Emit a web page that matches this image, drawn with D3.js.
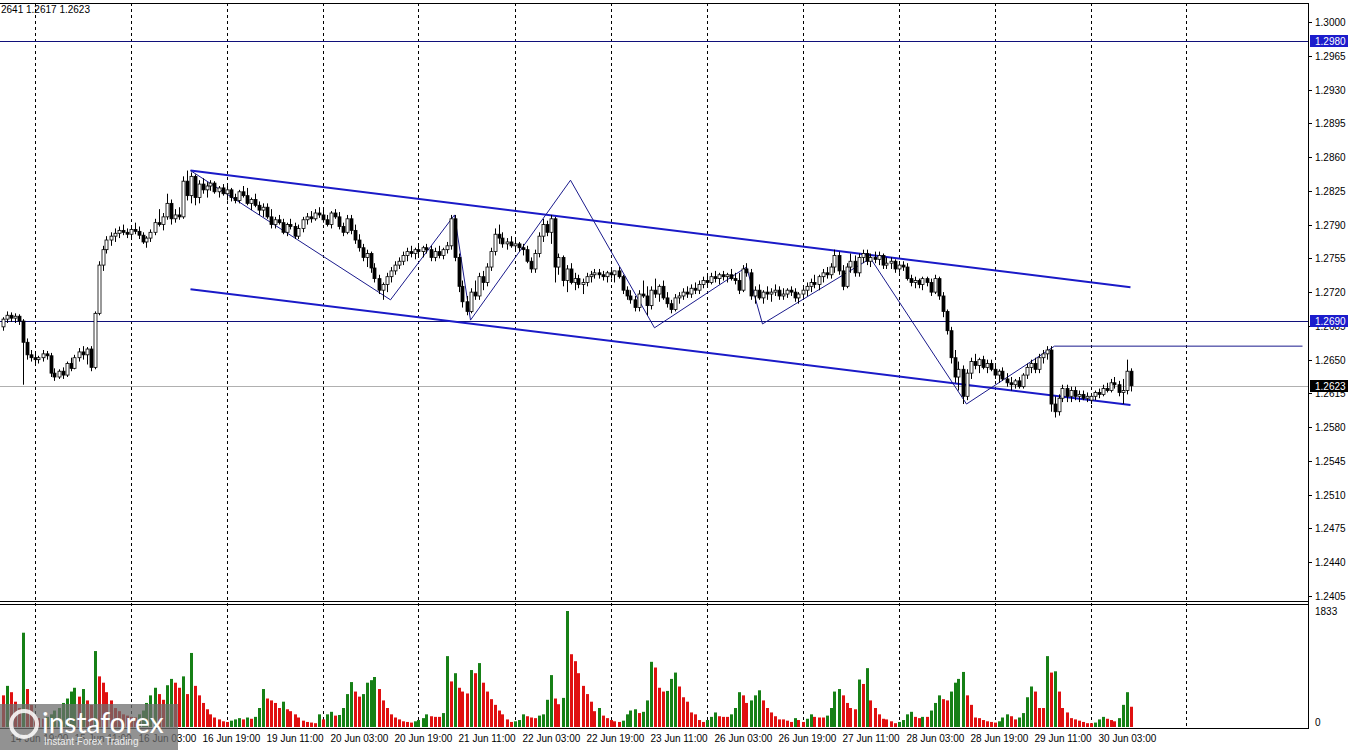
<!DOCTYPE html>
<html>
<head>
<meta charset="utf-8">
<script src="https://cdn.jsdelivr.net/npm/d3@7"></script>
<style>
  body { margin: 0; background: #fff; }
  text { font-family: "Liberation Sans", Arial, sans-serif; font-size: 10px; }
</style>
</head>
<body>
<div id="chart"></div>
<script>
var W = 1350, H = 750;
var plotRight = 1308;

// candles [open, high, low, close], price = 1.2 + v/10000
var candles = [
[684,694,680,692],[692,700,688,696],[696,699,689,693],[693,698,688,695],[695,697,686,690],[690,692,624,668],[668,672,650,655],[655,660,648,652],
[652,656,645,650],[650,654,646,652],[652,660,648,656],[656,659,650,654],[654,657,632,636],[636,641,628,632],[632,640,630,638],[638,642,630,634],
[634,648,632,646],[646,652,638,641],[641,655,640,652],[652,662,648,658],[658,664,650,655],[655,663,645,661],[661,664,638,642],[642,700,640,698],
[698,752,696,748],[748,768,742,764],[764,778,760,774],[774,782,768,778],[778,786,772,781],[781,788,776,784],[784,790,779,782],[782,786,776,780],
[780,787,776,785],[785,792,780,783],[783,788,775,779],[779,782,770,772],[772,778,766,776],[776,785,772,782],[782,796,779,792],[792,806,788,790],
[790,802,784,798],[798,822,795,812],[812,816,790,796],[796,806,792,800],[800,808,795,798],[798,840,796,835],[835,846,815,820],[820,844,812,840],
[840,842,810,818],[818,836,812,832],[832,838,822,826],[826,834,818,830],[830,836,825,833],[833,835,822,824],[824,830,818,828],[828,832,820,822],
[822,830,815,826],[826,828,814,818],[818,822,812,815],[815,826,812,824],[824,830,818,820],[820,828,810,812],[812,818,805,816],[816,822,808,810],
[810,814,800,805],[805,812,798,808],[808,812,796,798],[798,806,786,790],[790,798,786,795],[795,800,790,792],[792,796,780,782],[782,792,778,790],
[790,796,785,788],[788,792,775,778],[778,790,775,786],[786,798,782,795],[795,802,790,798],[798,804,792,796],[796,806,794,802],[802,808,797,800],
[800,806,792,795],[795,800,788,790],[790,804,786,802],[802,806,796,798],[798,803,785,788],[788,792,778,782],[782,800,780,796],[796,800,780,784],
[784,790,770,774],[774,780,762,766],[766,770,752,756],[756,764,746,760],[760,762,740,745],[745,750,730,734],[734,738,718,722],[722,730,712,728],
[728,740,720,736],[736,746,730,742],[742,752,738,748],[748,756,744,752],[752,762,748,758],[758,766,752,762],[762,768,756,760],[760,766,754,764],
[764,770,758,762],[762,768,756,766],[766,770,760,764],[764,768,752,756],[756,766,752,762],[762,768,755,758],[758,766,754,764],[764,772,760,768],
[768,800,764,796],[796,800,752,756],[756,760,720,726],[726,732,704,710],[710,716,696,700],[700,724,698,720],[720,732,712,716],[716,740,712,736],
[736,742,722,730],[730,750,726,746],[746,766,742,762],[762,786,758,780],[780,790,770,776],[776,782,766,770],[770,776,764,772],[772,778,766,768],
[768,774,764,770],[770,772,762,766],[766,770,758,764],[764,768,750,752],[752,756,740,744],[744,764,740,760],[760,782,756,778],[778,796,772,790],
[790,794,778,782],[782,800,770,796],[796,798,730,746],[746,760,738,756],[756,758,726,732],[732,748,720,744],[744,750,728,730],[730,740,722,734],
[734,738,724,728],[728,734,718,730],[730,740,726,736],[736,742,730,738],[738,744,734,740],[740,744,734,738],[738,742,732,736],[736,742,730,740],
[740,746,734,738],[738,742,730,742],[742,746,734,736],[736,738,718,722],[722,726,712,716],[716,722,708,712],[712,716,700,704],[704,722,700,718],
[718,732,714,716],[716,726,696,706],[706,726,702,722],[722,734,714,718],[718,728,710,726],[726,732,712,714],[714,720,704,708],[708,712,698,702],
[702,718,700,714],[714,720,708,716],[716,724,712,720],[720,726,714,718],[718,728,714,724],[724,730,718,722],[722,732,718,728],[728,736,724,732],
[732,738,726,730],[730,740,728,736],[736,742,730,734],[734,740,728,738],[738,742,732,736],[736,740,730,738],[738,744,732,734],[734,740,728,732],
[732,740,718,722],[722,748,720,744],[744,750,736,740],[740,744,712,716],[716,726,708,722],[722,728,712,714],[714,722,708,720],[720,726,712,718],
[718,724,710,720],[720,728,716,722],[722,726,712,716],[716,724,712,718],[718,724,714,722],[722,726,716,720],[720,724,710,714],[714,720,708,718],
[718,726,714,722],[722,730,716,726],[726,734,720,730],[730,738,724,728],[728,738,722,736],[736,744,730,740],[740,746,734,738],[738,750,734,746],
[746,764,740,758],[758,762,738,742],[742,748,722,726],[726,750,724,746],[746,760,740,752],[752,758,736,740],[740,760,736,756],[756,764,750,760],
[760,764,748,752],[752,760,746,756],[756,762,750,754],[754,762,748,758],[758,760,744,748],[748,756,744,750],[750,756,744,752],[752,754,740,744],
[744,750,740,748],[748,752,742,746],[746,750,732,734],[734,738,726,730],[730,736,724,732],[732,734,724,728],[728,736,722,734],[734,736,726,730],
[730,734,716,720],[720,738,718,734],[734,736,712,716],[716,720,694,700],[700,702,676,680],[680,684,646,652],[652,660,626,632],[632,648,618,640],
[640,644,604,612],[612,640,608,636],[636,652,630,648],[648,656,640,644],[644,652,636,650],[650,654,640,642],[642,650,636,646],[646,650,638,640],
[640,646,630,634],[634,640,626,638],[638,642,628,630],[630,636,622,626],[626,632,618,624],[624,630,620,628],[628,632,620,622],[622,636,620,634],
[634,646,630,642],[642,650,636,646],[646,652,636,640],[640,656,636,652],[652,660,646,656],[656,664,650,660],[660,664,596,604],[604,612,590,596],
[596,614,592,610],[610,624,606,620],[620,624,606,612],[612,622,606,618],[618,622,608,612],[612,618,606,614],[614,618,608,610],[610,616,606,612],
[608,614,604,612],[612,618,608,616],[616,620,610,614],[614,624,612,620],[620,626,616,618],[618,630,616,626],[626,632,620,624],[624,628,612,616],
[616,630,604,618],[618,650,614,638],[638,641,617,623]
];

var volumes = [
500,650,550,400,300,1490,600,350,
180,140,130,160,200,260,300,380,450,560,620,480,600,420,350,1200,800,700,550,420,300,250,200,180,
160,150,200,260,380,500,620,520,430,660,760,700,620,800,520,1170,650,500,380,280,200,150,120,90,
80,100,120,140,120,150,130,160,300,600,450,420,380,300,400,280,250,200,150,100,80,70,60,200,
120,200,240,180,190,300,520,710,560,480,520,700,740,790,600,420,300,200,150,120,90,80,70,90,
110,140,200,170,160,160,220,1120,720,850,620,560,530,900,850,1010,700,560,440,350,260,200,120,80,
90,110,200,170,150,140,180,200,430,820,450,360,460,1833,1150,1040,850,650,520,400,250,300,180,140,
110,90,80,100,200,260,280,220,240,420,1030,940,620,560,570,760,860,640,470,400,230,200,110,80,
110,160,230,170,160,160,200,300,550,500,380,420,500,580,420,300,230,170,120,120,100,80,140,110,
80,130,200,160,150,150,180,300,560,600,500,380,300,280,750,680,930,420,300,200,130,120,90,60,
80,110,200,240,160,140,160,160,260,380,500,440,420,560,700,760,870,500,350,150,140,110,90,80,
70,90,150,200,170,120,150,220,470,640,560,300,300,1120,860,880,560,300,230,140,120,100,80,60,
60,70,120,160,130,110,90,140,350,550,320
];

var priceTicks = [405,440,475,510,545,580,615,650,685,720,755,790,825,860,895,930,965,1000];
var timeLabels = ["14 Jun 19:00","15 Jun 11:00","16 Jun 03:00","16 Jun 19:00","19 Jun 11:00","20 Jun 03:00",
  "20 Jun 19:00","21 Jun 11:00","22 Jun 03:00","22 Jun 19:00","23 Jun 11:00","26 Jun 03:00",
  "26 Jun 19:00","27 Jun 11:00","28 Jun 03:00","28 Jun 19:00","29 Jun 11:00","30 Jun 03:00"];
var levels = [980, 690];
var lastPrice = 623;
// channel lines [index, price]
var channelTop = [[47,846],[282,725]];
var channelBottom = [[47,723],[282,603]];
var zigzag = [[47,846],[97,712],[113,800],[117,691],[142,836],[163,683],[186,746],[190,687],[217,755],[241,604],[263,664]];
var shelf = [[263,664],[325,664]];

var x = d3.scaleLinear().domain([0, 282]).range([2.5, 1130.5]);
var y = d3.scaleLinear().domain([405, 1000]).range([596, 22]);
var yv = d3.scaleLinear().domain([0, 1833]).range([727, 611]);

var svg = d3.select("#chart").append("svg").attr("width", W).attr("height", H);

// grid
var gridIdx = d3.range(8, 300, 24);
svg.selectAll(".grid").data(gridIdx).enter().append("line")
  .attr("x1", function(d) { return Math.round(x(d)) + 0.5; })
  .attr("x2", function(d) { return Math.round(x(d)) + 0.5; })
  .attr("y1", 3).attr("y2", 728)
  .attr("stroke", "#000").attr("stroke-dasharray", "3,3").attr("stroke-width", 1);

// frame
svg.append("line").attr("x1", 0).attr("x2", plotRight).attr("y1", 3.5).attr("y2", 3.5).attr("stroke", "#000");
svg.append("line").attr("x1", 0).attr("x2", plotRight).attr("y1", 601.5).attr("y2", 601.5).attr("stroke", "#000");
svg.append("line").attr("x1", 0).attr("x2", plotRight).attr("y1", 604.5).attr("y2", 604.5).attr("stroke", "#000");
svg.append("line").attr("x1", 0).attr("x2", plotRight).attr("y1", 728.5).attr("y2", 728.5).attr("stroke", "#000");
svg.append("line").attr("x1", plotRight + 0.5).attr("x2", plotRight + 0.5).attr("y1", 3).attr("y2", 729).attr("stroke", "#000");

// horizontal levels
svg.selectAll(".lvl").data(levels).enter().append("line")
  .attr("x1", 0).attr("x2", plotRight)
  .attr("y1", function(d) { return Math.round(y(d)) + 0.5; })
  .attr("y2", function(d) { return Math.round(y(d)) + 0.5; })
  .attr("stroke", "#10107a").attr("stroke-width", 1);
svg.append("line").attr("x1", 0).attr("x2", plotRight)
  .attr("y1", Math.round(y(lastPrice)) + 0.5).attr("y2", Math.round(y(lastPrice)) + 0.5)
  .attr("stroke", "#b0b0b0");

// channel and zigzag
var line = d3.line().x(function(d) { return x(d[0]); }).y(function(d) { return y(d[1]); });
[channelTop, channelBottom].forEach(function(c) {
  svg.append("path").attr("d", line(c)).attr("fill", "none").attr("stroke", "#1a1ac8").attr("stroke-width", 2);
});
svg.append("path").attr("d", line(zigzag)).attr("fill", "none").attr("stroke", "#1a1a8c").attr("stroke-width", 1);
svg.append("path").attr("d", line(shelf)).attr("fill", "none").attr("stroke", "#1a1a8c").attr("stroke-width", 1);

// candles
var cg = svg.append("g");
cg.selectAll(".wick").data(candles).enter().append("line")
  .attr("x1", function(d, i) { return Math.round(x(i)) + 0.5; })
  .attr("x2", function(d, i) { return Math.round(x(i)) + 0.5; })
  .attr("y1", function(d) { return y(d[1]); })
  .attr("y2", function(d) { return y(d[2]); })
  .attr("stroke", "#000");
cg.selectAll(".body").data(candles).enter().append("rect")
  .attr("x", function(d, i) { return Math.round(x(i)) - 1; })
  .attr("width", 3)
  .attr("y", function(d) { return y(Math.max(d[0], d[3])); })
  .attr("height", function(d) { return Math.max(1, Math.abs(y(d[0]) - y(d[3]))); })
  .attr("fill", function(d) { return d[3] >= d[0] ? "#fff" : "#000"; })
  .attr("stroke", "#000").attr("stroke-width", 0.8);

// volumes
svg.selectAll(".vol").data(volumes).enter().append("rect")
  .attr("x", function(d, i) { return Math.round(x(i)) - 1; })
  .attr("width", 3)
  .attr("y", function(d) { return yv(d); })
  .attr("height", function(d) { return yv(0) - yv(d); })
  .attr("fill", function(d, i) { return i > 0 && d > volumes[i - 1] ? "#168016" : "#e01010"; });

// price axis
var ax = svg.append("g");
priceTicks.forEach(function(t) {
  var yy = Math.round(y(t)) + 0.5;
  ax.append("line").attr("x1", plotRight).attr("x2", plotRight + 4).attr("y1", yy).attr("y2", yy).attr("stroke", "#000");
  ax.append("text").attr("x", 1315).attr("y", yy + 3.5).text((1.2 + t / 10000).toFixed(4));
});
function badge(v, bg) {
  var yy = Math.round(y(v));
  ax.append("rect").attr("x", 1310).attr("y", yy - 6).attr("width", 38).attr("height", 12).attr("fill", bg);
  ax.append("text").attr("x", 1315).attr("y", yy + 4).attr("fill", "#fff").text((1.2 + v / 10000).toFixed(4));
}
levels.forEach(function(v) { badge(v, "#1c1ccc"); });
badge(lastPrice, "#000");

// volume axis
svg.append("text").attr("x", 1315).attr("y", 615).text("1833");
svg.append("text").attr("x", 1315).attr("y", 726).text("0");

// time labels
svg.selectAll(".tl").data(timeLabels).enter().append("text")
  .attr("x", function(d, i) { return x(2 + 16 * i); })
  .attr("y", 742).text(function(d) { return d; });

// header
svg.append("text").attr("x", 1).attr("y", 13).text("2641 1.2617 1.2623");

// logo
var lg = svg.append("g");
lg.append("rect").attr("x", 0).attr("y", 704).attr("width", 178).attr("height", 46).attr("fill", "#6e6e6e").attr("opacity", 0.75);
lg.append("circle").attr("cx", 24).attr("cy", 724).attr("r", 13).attr("fill", "none").attr("stroke", "#fff").attr("stroke-width", 4).attr("opacity", 0.85);
lg.append("text").attr("x", 42).attr("y", 733).attr("fill", "#fff").style("font-size", "28px").style("font-family", "Lato, sans-serif").text("instaforex");
lg.append("text").attr("x", 44).attr("y", 745).attr("fill", "#eee").style("font-size", "10px").text("Instant Forex Trading");
</script>
</body>
</html>
